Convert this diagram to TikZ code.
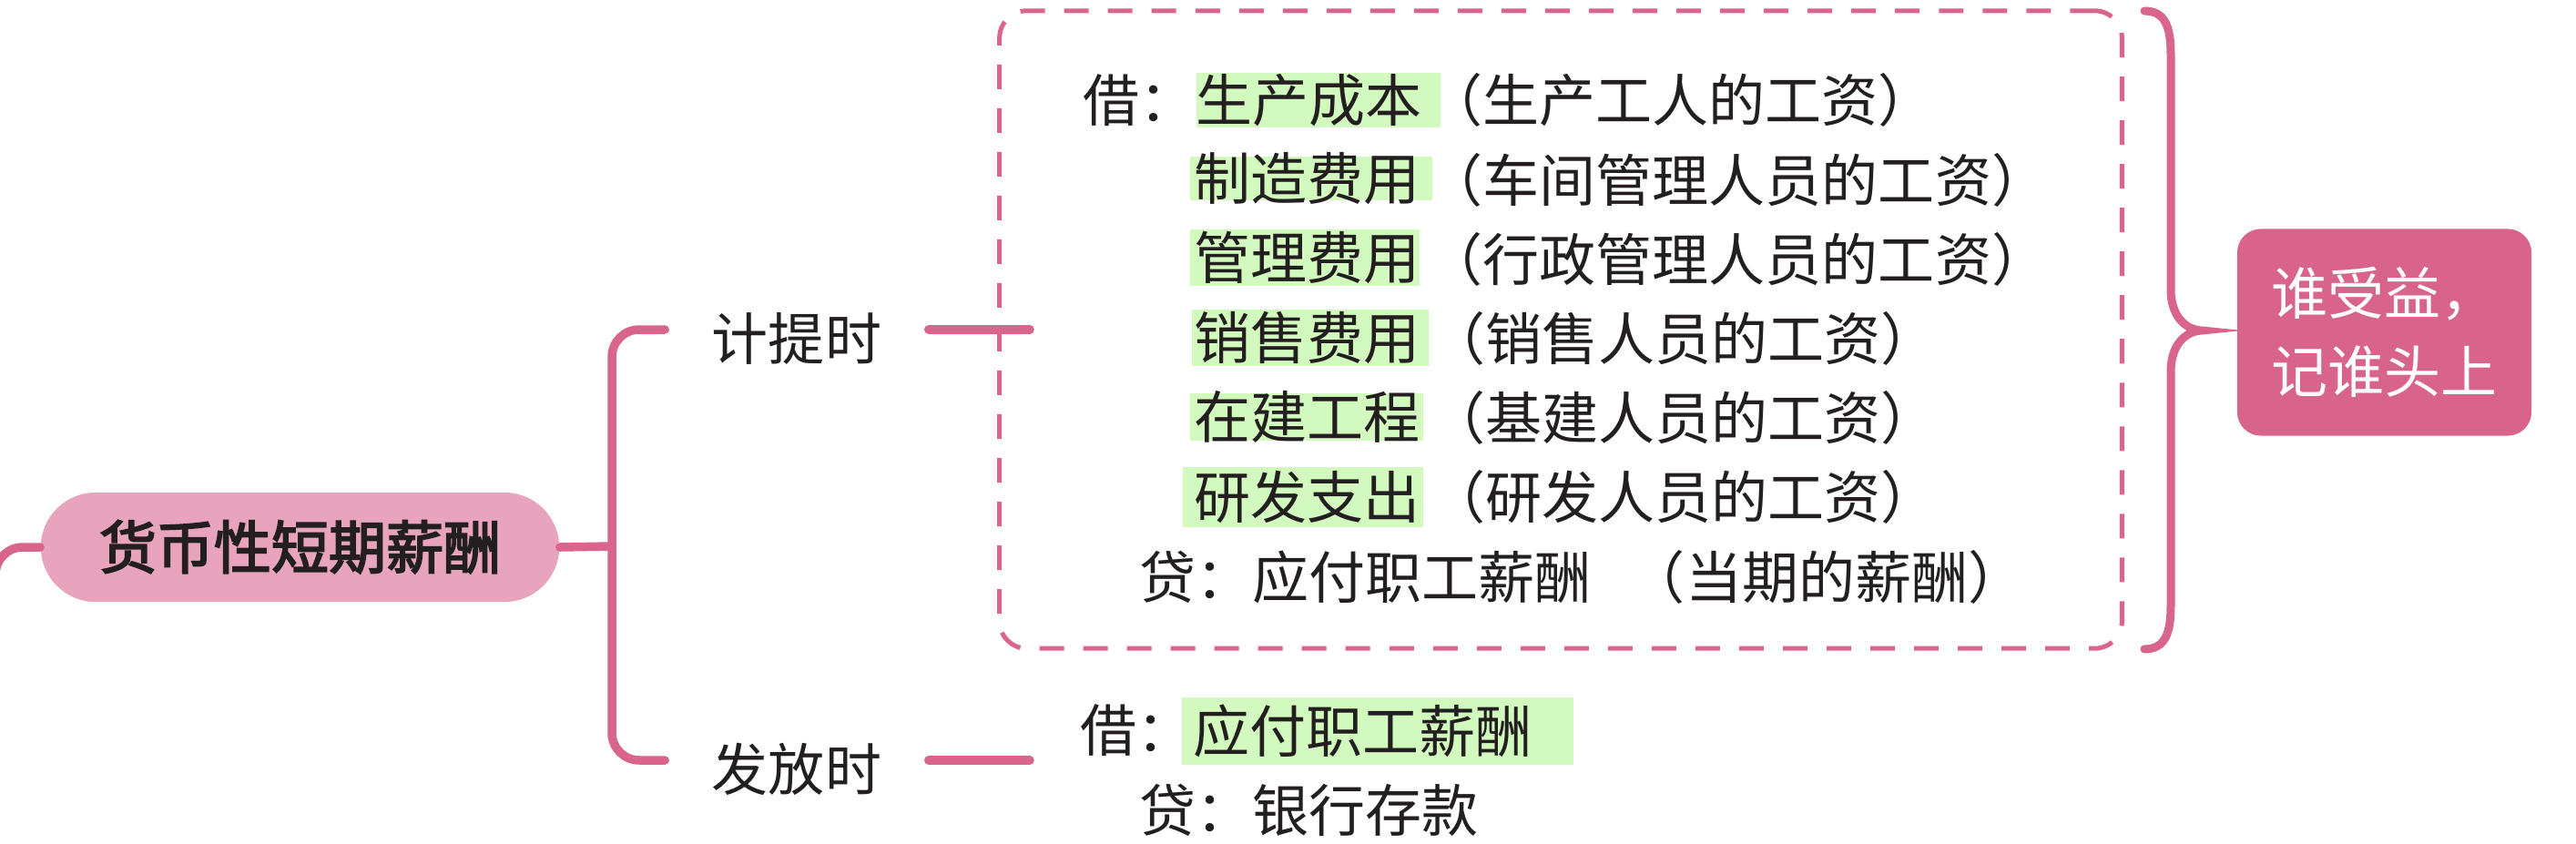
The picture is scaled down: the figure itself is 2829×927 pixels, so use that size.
\documentclass[tikz,border=0pt]{standalone}
\usepackage{fontspec}
\setmainfont{Noto Sans CJK SC}
\newfontfamily\rootfont{Noto Sans CJK SC}[FakeBold=3]
\definecolor{linepink}{HTML}{D9648C}
\definecolor{rootpink}{HTML}{E8A4BD}
\definecolor{notepink}{HTML}{D8648C}
\definecolor{hlgreen}{HTML}{D3FABE}
\definecolor{inkdark}{HTML}{231F20}
\newcommand{\cjksize}{\fontsize{17.64pt}{24.47pt}\selectfont}
\begin{document}
\begin{tikzpicture}[x=0.01cm, y=-0.01cm,
  conn/.style={draw=linepink, line width=0.095cm, line cap=round, rounded corners=0.3cm},
  txt/.style={inner sep=0pt, text height=0.5456cm, text depth=0.0744cm, text=inkdark, font=\cjksize},
  hl/.style n args={3}{txt, fill=hlgreen, anchor=west, inner xsep=#1, inner ysep=#2, text width=#3, align=left},
  branch/.style={inner sep=0pt, text height=0.672cm, text depth=0pt, text=inkdark, font=\cjksize, minimum width=2.88cm},
  rootbox/.style={fill=rootpink, rounded corners=0.6cm, minimum width=5.69cm, minimum height=1.2cm, inner sep=0pt, text height=0.5456cm, text depth=0.0744cm, text=inkdark, font=\rootfont\fontsize{17.92pt}{24pt}\selectfont},
  notebox/.style={fill=notepink, rounded corners=0.26cm, minimum width=3.23cm, minimum height=2.27cm, inner sep=0pt, text=white, font=\cjksize, align=center},
  bound/.style={draw=linepink, line width=0.05cm, dash pattern=on 0.27cm off 0.21cm, rounded corners=0.3cm, minimum width=12.32cm, minimum height=7.0cm, inner sep=0pt},
  brace/.style={draw=linepink, line width=0.09cm, line cap=round}]
\useasboundingbox (0,0) rectangle (2829,927);

% boundary
\node[bound] (bd) at (1714,362) {};

% root and branches
\node[rootbox] (root) at (329.5,601) {货币性短期薪酬\hspace{0.17cm}};
\node[branch] (k1) at (875,362) {计提时};
\node[branch] (k2) at (875,835) {发放时};

\coordinate (lstub) at (-5,640);
\coordinate (tr) at (672,600);
\coordinate (c1) at (1131,362);
\coordinate (c2) at (1131,835);

\draw[conn] (root.west) -| (lstub);
\draw[conn] (root.east) -- (tr);
\draw[conn] (k1.west) -| (tr) |- (k2.west);
\draw[conn] (k1.east) -- (c1);
\draw[conn] (k2.east) -- (c2);

% entries (accrual)
\node[txt, anchor=west] (j1) at (1189,110) {借：};
\node[hl={0pt}{-0.01cm}{2.68cm}] (h1) at (1313,110) {生产成本};
\node[txt, anchor=west] (p1) at (1566,110) {（生产工人的工资）};

\node[hl={0.05cm}{-0.075cm}{2.56cm}] (h2) at (1306,196) {制造费用};
\node[txt, anchor=west] (p2) at (1566,198) {（车间管理人员的工资）};

\node[hl={0.05cm}{0cm}{2.42cm}] (h3) at (1306,283) {管理费用};
\node[txt, anchor=west] (p3) at (1566,285) {（行政管理人员的工资）};

\node[hl={0.03cm}{-0.005cm}{2.54cm}] (h4) at (1308,371) {销售费用};
\node[txt, anchor=west] (p4) at (1569,372) {（销售人员的工资）};

\node[hl={0.05cm}{-0.05cm}{2.46cm}] (h5) at (1306,458) {在建工程};
\node[txt, anchor=west] (p5) at (1569,459) {（基建人员的工资）};

\node[hl={0.13cm}{0.015cm}{2.38cm}] (h6) at (1298,546) {研发支出};
\node[txt, anchor=west] (p6) at (1569,546) {（研发人员的工资）};

\node[txt, anchor=west] (d1) at (1251,634) {贷：应付职工薪酬\hspace{0.41cm}（当期的薪酬）};

% entries (payment)
\node[txt, anchor=west] (j2) at (1186,802) {借：};
\node[hl={0.13cm}{0.06cm}{4.04cm}] (h7) at (1297,803) {应付职工薪酬};
\node[txt, anchor=west] (d2) at (1251,890) {贷：银行存款};

% brace
\coordinate (bt) at (2355,12);
\coordinate (btip) at (2418,363);
\coordinate (bb) at (2355,713);
\draw[brace] (bt) .. controls (2378,12) and (2384,30) .. (2384,60)
  -- (2384,318) .. controls (2384,345) and (2398,362) .. (btip)
  .. controls (2398,364) and (2384,381) .. (2384,408)
  -- (2384,665) .. controls (2384,695) and (2378,713) .. (bb);

% note
\node[notebox] (note) at (2618.5,365) {谁受益，\\记谁头上};
\end{tikzpicture}
\end{document}
